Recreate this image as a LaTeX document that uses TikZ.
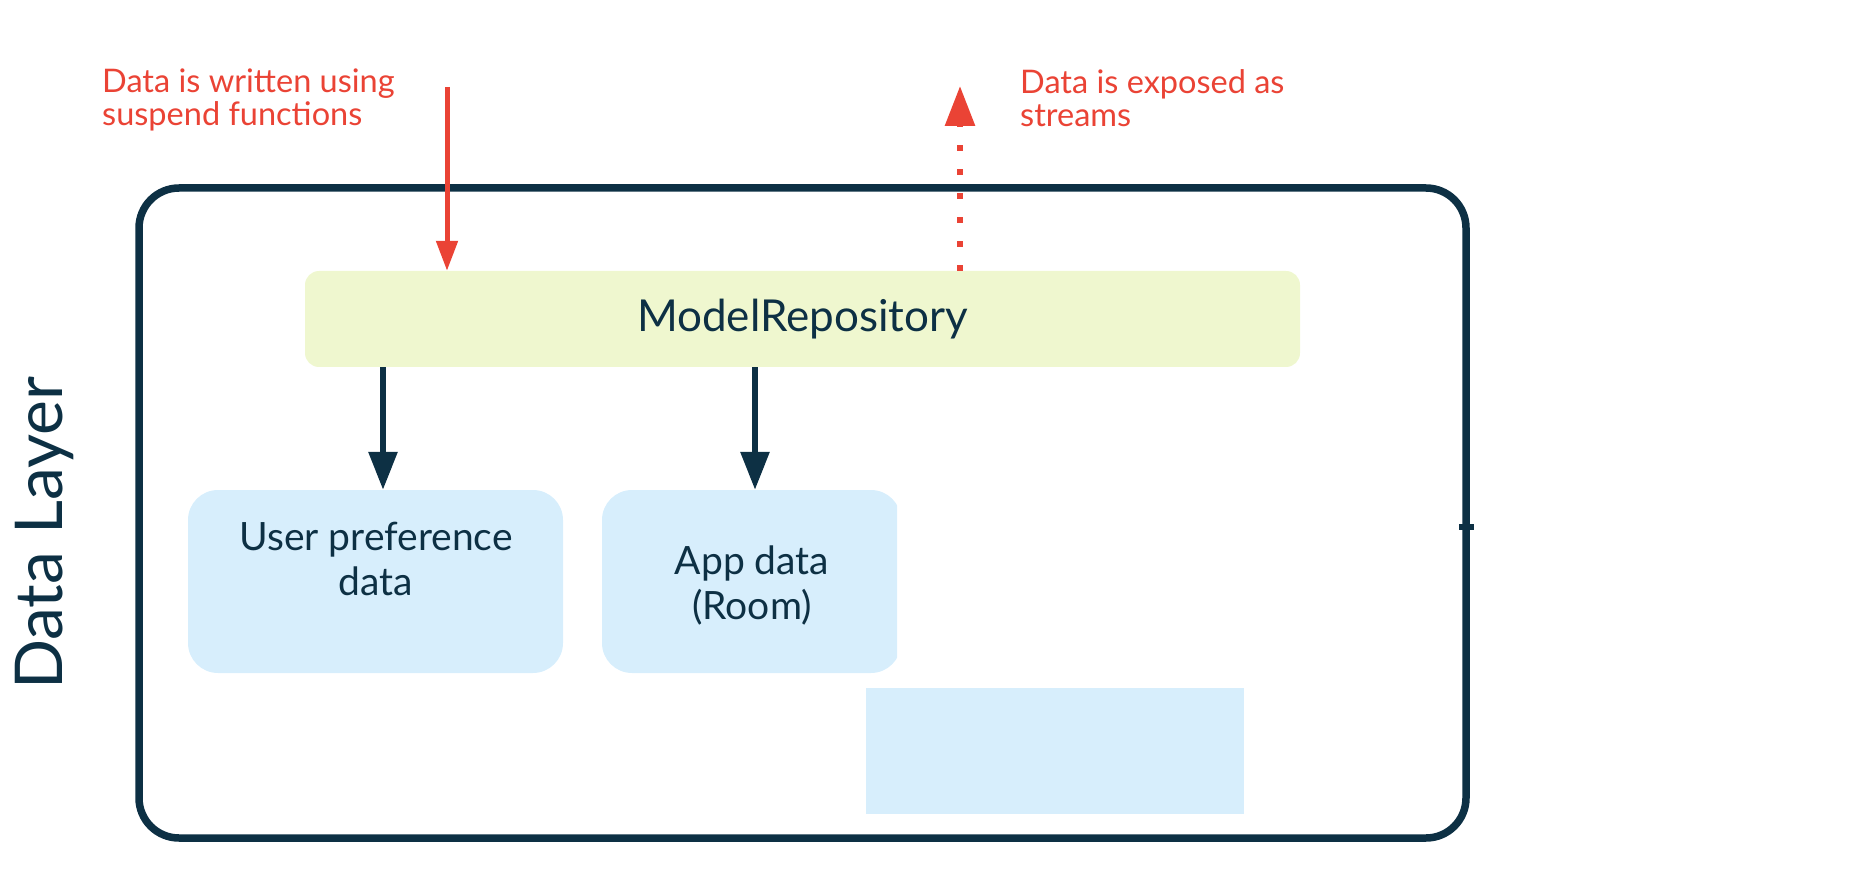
\documentclass[tikz,border=0pt]{standalone}
\usepackage{fontspec}
\setmainfont{Lato}
\usetikzlibrary{arrows.meta}
\definecolor{navy}{HTML}{0D3044}
\definecolor{gred}{HTML}{EA4335}
\definecolor{mrfill}{HTML}{EFF7CF}
\definecolor{bluefill}{HTML}{D7EEFC}
\newcommand\setfs[2]{\fontsize{#1}{#2}\selectfont}
\tikzset{
  layerframe/.style={draw=navy, line width=7.5pt, rounded corners=40pt, inner sep=0pt},
  repobox/.style={fill=mrfill, rounded corners=14pt, inner sep=0pt, text=navy},
  storebox/.style={fill=bluefill, rounded corners=30pt, inner sep=0pt},
  btext/.style={text=navy, align=center, inner sep=0pt, font=\setfs{39}{45}},
  rtext/.style={text=gred, align=left, inner sep=0pt, font=\setfs{32.5}{33.5}},
  darr/.style={navy, line width=6pt, -{Triangle[length=38pt,width=28pt]}},
  warr/.style={gred, line width=5pt, -{Triangle[length=30pt,width=21pt]}},
  sarr/.style={gred, line width=6pt, dash pattern=on 6pt off 18pt, -{Triangle[length=40pt,width=29pt]}},
}
\begin{document}
\begin{tikzpicture}[x=1pt,y=-1pt]
\useasboundingbox (0,0) rectangle (1866,874);
% outer frame
\node[layerframe, minimum width=1327pt, minimum height=650pt] (layer) at (802.5,513) {};
\draw[navy, line width=6pt] (1459,527) -- (1474,527);
% Data Layer label
\node[rotate=90, anchor=base, text=navy, inner sep=0pt, font=\setfs{66}{80}] (lbl) at (62,533.5) {Data Layer};
% repository
\node[repobox, minimum width=995pt, minimum height=96pt, font=\setfs{44}{50}] (mr) at (802.5,319) {ModelRepository};
% stores
\node[storebox, minimum width=375pt, minimum height=183pt] (up) at (375.5,581.5) {};
\node[btext, anchor=base] (uptext) at (376,595) {User preference\\data};
\node[inner sep=0pt, minimum width=295pt, minimum height=183pt,
  path picture={\fill[bluefill, rounded corners=30pt] (path picture bounding box.south west) rectangle ([xshift=4pt]path picture bounding box.north east);}] (app) at (749.5,581.5) {};
\node[btext, anchor=base] (apptext) at (752,619) {App data\\(Room)};
\node[fill=bluefill, inner sep=0pt, minimum width=378pt, minimum height=126pt] (blank) at (1055,751) {};
% connectors
\coordinate (c1) at (383,0);
\coordinate (c2) at (755,0);
\draw[darr] (c1 |- mr.south) -- (c1 |- up.north);
\draw[darr] (c2 |- mr.south) -- (c2 |- app.north);
\coordinate (wtop) at (447,87);
\draw[warr] (wtop) -- (wtop |- mr.north);
\coordinate (stop) at (960,86);
\draw[sarr] (stop |- mr.north) -- (stop);
% red notes
\node[rtext, anchor=base west] (wnote) at (102,126) {Data is written using\\suspend functions};
\node[rtext, anchor=base west] (snote) at (1020,127) {Data is exposed as\\streams};
\end{tikzpicture}
\end{document}
